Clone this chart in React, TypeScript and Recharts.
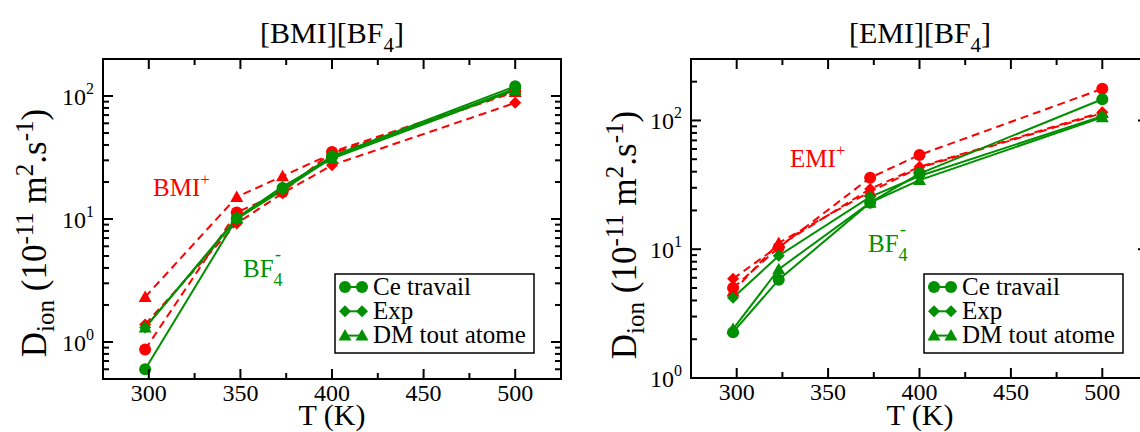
import { LineChart, Line, XAxis, YAxis, ReferenceArea } from 'recharts';

const RED = '#ff0000';
const GREEN = '#009000';
const FONT = "'Liberation Serif', 'DejaVu Serif', serif";

// [BMI][BF4] panel
const tempsBmi = [298, 348, 373, 400, 500];
const bmiCationCe = [0.87, 11.3, 16.6, 35.1, 110];
const bmiCationExp = [1.39, 9.2, 16.2, 27.4, 88];
const bmiCationDm = [2.32, 15.1, 22.3, 34, 108];
const bmiAnionCe = [0.6, 10.1, 17.9, 32.4, 120];
const bmiAnionExp = [1.31, 10, 17.2, 31.6, 115];
const bmiAnionDm = [1.31, 10.2, 18.3, 31, 112];

// [EMI][BF4] panel
const tempsEmi = [298, 323, 373, 400, 500];
const emiCationCe = [5.0, 10.3, 35.9, 54, 176];
const emiCationExp = [5.9, 10.6, 29.4, 43.6, 116];
const emiCationDm = [4.7, 11.2, 28, 43, 114];
const emiAnionCe = [2.27, 5.8, 23, 38.7, 146];
const emiAnionExp = [4.2, 8.9, 25.5, 37, 108];
const emiAnionDm = [2.4, 7.0, 23, 34.4, 106];

const xTicks = [300, 325, 350, 375, 400, 425, 450, 475, 500];
const bmiYTicks = [0.5, 0.6, 0.7, 0.8, 0.9, 1, 2, 3, 4, 5, 6, 7, 8, 9, 10, 20, 30, 40, 50, 60, 70, 80, 90, 100];
const emiYTicks = [1, 2, 3, 4, 5, 6, 7, 8, 9, 10, 20, 30, 40, 50, 60, 70, 80, 90, 100, 200];
const legendNames = ['Ce travail', 'Exp', 'DM tout atome'];

type Shape = 'circle' | 'diamond' | 'triangle';

const seriesDefs: { key: string; color: string; shape: Shape; dashed: boolean }[] = [
  { key: 'cCe', color: RED, shape: 'circle', dashed: true },
  { key: 'cExp', color: RED, shape: 'diamond', dashed: true },
  { key: 'cDm', color: RED, shape: 'triangle', dashed: true },
  { key: 'aCe', color: GREEN, shape: 'circle', dashed: false },
  { key: 'aExp', color: GREEN, shape: 'diamond', dashed: false },
  { key: 'aDm', color: GREEN, shape: 'triangle', dashed: false },
];

function buildRows(temps: number[], s: Record<string, number[]>) {
  return temps.map((T, i) => {
    const row: Record<string, number> = { T };
    Object.keys(s).forEach((k) => (row[k] = s[k][i]));
    return row;
  });
}

const bmiRows = buildRows(tempsBmi, {
  cCe: bmiCationCe, cExp: bmiCationExp, cDm: bmiCationDm,
  aCe: bmiAnionCe, aExp: bmiAnionExp, aDm: bmiAnionDm,
});
const emiRows = buildRows(tempsEmi, {
  cCe: emiCationCe, cExp: emiCationExp, cDm: emiCationDm,
  aCe: emiAnionCe, aExp: emiAnionExp, aDm: emiAnionDm,
});

const txt = { fontFamily: FONT };

function Marker({ cx, cy, shape, color }: { cx: number; cy: number; shape: Shape; color: string }) {
  if (shape === 'circle') return <circle cx={cx} cy={cy} r={6} fill={color} />;
  if (shape === 'diamond')
    return <polygon points={`${cx},${cy - 6} ${cx + 6},${cy} ${cx},${cy + 6} ${cx - 6},${cy}`} fill={color} />;
  return <polygon points={`${cx},${cy - 6.5} ${cx + 6.5},${cy + 5} ${cx - 6.5},${cy + 5}`} fill={color} />;
}

function makeXTick(plotH: number) {
  return (props: any) => {
    const { x, y, payload } = props;
    const v = payload.value as number;
    const major = v % 50 === 0;
    const len = major ? 10 : 6;
    return (
      <g>
        <line x1={x} y1={y} x2={x} y2={y - len} stroke="#000" strokeWidth={2} />
        <line x1={x} y1={y - plotH} x2={x} y2={y - plotH + len} stroke="#000" strokeWidth={2} />
        {major && (
          <text x={x} y={y + 22} textAnchor="middle" fontSize={24} style={txt} fill="#000">
            {v}
          </text>
        )}
      </g>
    );
  };
}

function makeYTick(plotW: number) {
  return (props: any) => {
    const { x, y, payload } = props;
    const v = payload.value as number;
    const e = Math.log10(v);
    const major = Math.abs(e - Math.round(e)) < 1e-6;
    const len = major ? 10 : 6;
    return (
      <g>
        <line x1={x} y1={y} x2={x + len} y2={y} stroke="#000" strokeWidth={2} />
        <line x1={x + plotW} y1={y} x2={x + plotW - len} y2={y} stroke="#000" strokeWidth={2} />
        {major && (
          <text x={x - 9} y={y + 9} textAnchor="end" fontSize={24} style={txt} fill="#000">
            10<tspan dy={-11} fontSize={16}>{Math.round(e)}</tspan>
          </text>
        )}
      </g>
    );
  };
}

type PanelProps = {
  rows: Record<string, number>[];
  yDomain: [number, number];
  yTicks: number[];
  yAxisWidth: number;
  marginRight: number;
  xAxisHeight: number;
};

function Panel({ rows, yDomain, yTicks, yAxisWidth, marginRight, xAxisHeight }: PanelProps) {
  const W = 580;
  const H = 432;
  const top = 59;
  const plotW = W - yAxisWidth - marginRight;
  const plotH = H - top - xAxisHeight;
  return (
    <LineChart width={W} height={H} data={rows} margin={{ top, right: marginRight, bottom: 0, left: 0 }}>
      <XAxis
        type="number"
        dataKey="T"
        domain={[275, 525]}
        ticks={xTicks}
        interval={0}
        axisLine={false}
        tickLine={false}
        tickSize={0}
        tickMargin={0}
        height={xAxisHeight}
        tick={makeXTick(plotH)}
      />
      <YAxis
        type="number"
        scale="log"
        domain={yDomain}
        allowDataOverflow
        ticks={yTicks}
        interval={0}
        axisLine={false}
        tickLine={false}
        tickSize={0}
        tickMargin={0}
        width={yAxisWidth}
        tick={makeYTick(plotW)}
      />
      <ReferenceArea
        x1={275}
        x2={525}
        y1={yDomain[0]}
        y2={yDomain[1]}
        ifOverflow="visible"
        fill="none"
        stroke="#000"
        strokeWidth={2}
      />
      {seriesDefs.map((s) => (
        <Line
          key={s.key}
          type="linear"
          dataKey={s.key}
          stroke={s.color}
          strokeWidth={2}
          strokeDasharray={s.dashed ? '8 5' : undefined}
          isAnimationActive={false}
          activeDot={false}
          dot={(p: any) => (
            <Marker key={`${s.key}-${p.index}`} cx={p.cx} cy={p.cy} shape={s.shape} color={s.color} />
          )}
        />
      ))}
    </LineChart>
  );
}

function LegendBox({ x, y }: { x: number; y: number }) {
  const shapes: Shape[] = ['circle', 'diamond', 'triangle'];
  return (
    <g>
      <rect x={x} y={y} width={199} height={79} fill="#fff" stroke="#000" strokeWidth={1.5} />
      {legendNames.map((name, i) => {
        const cy = y + 13 + i * 24.3;
        return (
          <g key={name}>
            <line x1={x + 10} y1={cy} x2={x + 27} y2={cy} stroke={GREEN} strokeWidth={2} />
            <Marker cx={x + 10} cy={cy} shape={shapes[i]} color={GREEN} />
            <Marker cx={x + 27} cy={cy} shape={shapes[i]} color={GREEN} />
            <text x={x + 38} y={cy + 7.5} fontSize={25} style={txt} fill="#000">
              {name}
            </text>
          </g>
        );
      })}
    </g>
  );
}

function YLabel({ cx, cy }: { cx: number; cy: number }) {
  return (
    <text transform={`rotate(-90 ${cx} ${cy})`} x={cx} y={cy} textAnchor="middle" fontSize={35} style={txt} fill="#000">
      D<tspan dy={8} fontSize={25}>ion</tspan>
      <tspan dy={-8}> (10</tspan>
      <tspan dy={-13} fontSize={25}>-11</tspan>
      <tspan dy={13}> m</tspan>
      <tspan dy={-13} fontSize={25}>2</tspan>
      <tspan dy={13}>.s</tspan>
      <tspan dy={-13} fontSize={25}>-1</tspan>
      <tspan dy={13}>)</tspan>
    </text>
  );
}

function Title({ x, name }: { x: number; name: string }) {
  return (
    <text x={x} y={43} textAnchor="middle" fontSize={30} style={txt} fill="#000">
      [{name}][BF<tspan dy={9} fontSize={21}>4</tspan>
      <tspan dy={-9}>]</tspan>
    </text>
  );
}

function Anion({ x, y }: { x: number; y: number }) {
  return (
    <text x={x} y={y} fontSize={25} style={txt} fill={GREEN}>
      BF<tspan dy={9} fontSize={18}>4</tspan>
      <tspan x={x + 32} dy={-26} fontSize={18}>-</tspan>
    </text>
  );
}

function Cation({ x, y, name }: { x: number; y: number; name: string }) {
  return (
    <text x={x} y={y} fontSize={25} style={txt} fill={RED}>
      {name}
      <tspan dy={-11} fontSize={17}>+</tspan>
    </text>
  );
}

export default function App() {
  return (
    <div
      style={{
        position: 'absolute',
        left: 0,
        top: 0,
        width: 1140,
        height: 432,
        overflow: 'hidden',
        background: '#fff',
        fontFamily: FONT,
      }}
    >
      <div style={{ position: 'absolute', left: 0, top: 0 }}>
        <Panel rows={bmiRows} yDomain={[0.5, 200]} yTicks={bmiYTicks} yAxisWidth={103} marginRight={19} xAxisHeight={53} />
      </div>
      <div style={{ position: 'absolute', left: 580, top: 0 }}>
        <Panel rows={emiRows} yDomain={[1, 300]} yTicks={emiYTicks} yAxisWidth={111} marginRight={12} xAxisHeight={54} />
      </div>
      <svg width={1140} height={432} style={{ position: 'absolute', left: 0, top: 0, pointerEvents: 'none' }}>
        <Title x={332} name="BMI" />
        <Title x={920} name="EMI" />
        <YLabel cx={46} cy={233} />
        <YLabel cx={636} cy={235} />
        <text x={332} y={425} textAnchor="middle" fontSize={30} style={txt} fill="#000">T (K)</text>
        <text x={920} y={425} textAnchor="middle" fontSize={30} style={txt} fill="#000">T (K)</text>
        <Cation x={153} y={196} name="BMI" />
        <Anion x={243} y={277} />
        <Cation x={790} y={167} name="EMI" />
        <Anion x={868} y={252} />
        <LegendBox x={335} y={274} />
        <LegendBox x={924} y={274} />
      </svg>
    </div>
  );
}
